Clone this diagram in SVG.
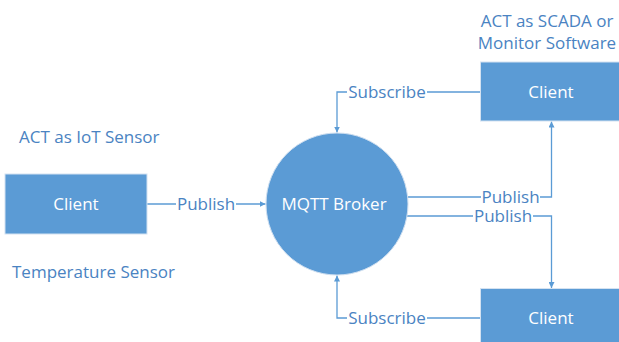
<svg xmlns="http://www.w3.org/2000/svg" width="619" height="342" viewBox="0 0 619 342">
  <style>
    .box { fill: #5b9bd5; stroke: #d4e2f1; stroke-width: 1; }
    .node-text { font-family: "Open Sans", "Liberation Sans", sans-serif; font-size: 17px; fill: #ffffff; text-anchor: middle; }
    .note { font-family: "Open Sans", "Liberation Sans", sans-serif; font-size: 17px; fill: #4a83c2; }
    .label { font-family: "Open Sans", "Liberation Sans", sans-serif; font-size: 17px; fill: #4a83c2; text-anchor: middle; }
    .wire { fill: none; stroke: #5b9bd5; stroke-width: 1.3; }
    .gap { fill: #ffffff; }
  </style>
  <defs>
    <marker id="arrow" viewBox="0 0 10 10" refX="10" refY="5" markerWidth="6" markerHeight="6" markerUnits="userSpaceOnUse" orient="auto">
      <path d="M0,0 L10,5 L0,10 z" fill="#5b9bd5"/>
    </marker>
  </defs>

  <rect width="619" height="342" fill="#ffffff"/>

  <!-- Free-standing notes -->
  <text class="note" x="19" y="143">ACT as IoT Sensor</text>
  <text class="note" x="12" y="278">Temperature Sensor</text>
  <text class="label" x="547" y="27">ACT as SCADA or</text>
  <text class="label" x="547" y="49">Monitor Software</text>

  <!-- Connectors -->
  <g id="connectors">
    <path class="wire" d="M147,204 H265.5" marker-end="url(#arrow)"/>
    <rect class="gap" x="176" y="194" width="60" height="20"/>
    <text class="label" x="206" y="210">Publish</text>

    <path class="wire" d="M480,92 H337 V132.5" marker-end="url(#arrow)"/>
    <rect class="gap" x="347" y="82" width="80" height="20"/>
    <text class="label" x="387" y="98">Subscribe</text>

    <path class="wire" d="M480,318 H337 V275.5" marker-end="url(#arrow)"/>
    <rect class="gap" x="347" y="308" width="80" height="20"/>
    <text class="label" x="387" y="324">Subscribe</text>

    <path class="wire" d="M400,197 H551.5 V121.5" marker-end="url(#arrow)"/>
    <rect class="gap" x="481" y="187" width="59" height="20"/>
    <text class="label" x="510.5" y="203">Publish</text>

    <path class="wire" d="M400,216 H551.5 V288" marker-end="url(#arrow)"/>
    <rect class="gap" x="473" y="206" width="60" height="20"/>
    <text class="label" x="503" y="222">Publish</text>
  </g>

  <!-- Nodes -->
  <g id="broker">
    <circle cx="337" cy="204" r="71" fill="#5b9bd5" stroke="#cfdff0" stroke-width="1"/>
    <text class="node-text" x="334" y="210">MQTT Broker</text>
  </g>

  <g id="sensor-client">
    <rect class="box" x="5" y="174" width="142" height="60"/>
    <text class="node-text" x="76" y="210">Client</text>
  </g>

  <g id="scada-client">
    <rect class="box" x="480.5" y="62" width="142" height="59"/>
    <text class="node-text" x="551" y="98">Client</text>
  </g>

  <g id="subscriber-client">
    <rect class="box" x="480.5" y="288.5" width="142" height="60"/>
    <text class="node-text" x="551" y="324">Client</text>
  </g>
</svg>
